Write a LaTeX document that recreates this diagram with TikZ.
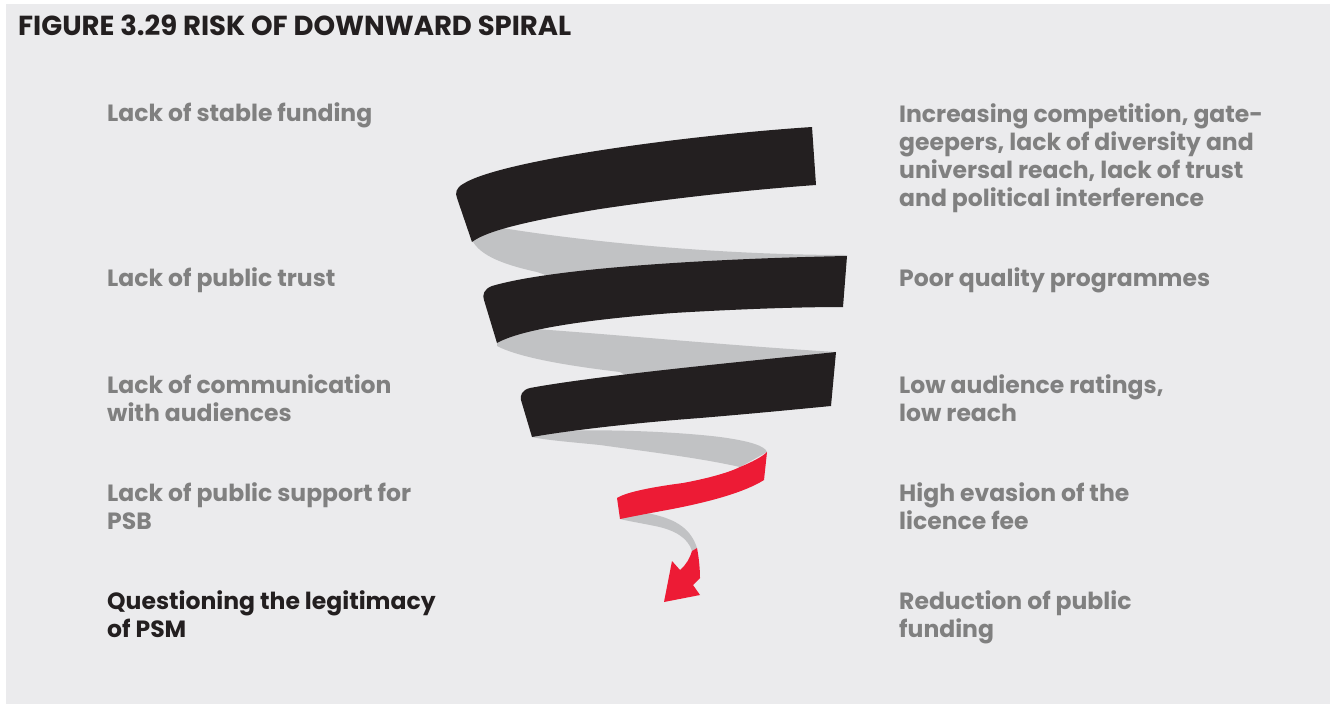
\documentclass[tikz,border=0pt]{standalone}
\usepackage{fontspec}
\setmainfont{Poppins}
\definecolor{panel}{HTML}{EBEBED}
\definecolor{txtgrey}{HTML}{808080}
\definecolor{ink}{HTML}{231F20}
\definecolor{ribbongrey}{HTML}{C1C2C4}
\definecolor{ribbonred}{HTML}{ED1B35}
\tikzset{
  lbl/.style={anchor=base west, inner sep=0pt, align=left, text=txtgrey,
    font=\fontsize{23.5}{28}\selectfont\bfseries},
  lbldark/.style={lbl, text=ink},
  title/.style={anchor=base west, inner sep=0pt, text=ink,
    font=\fontsize{27.5}{30}\selectfont\bfseries},
  back/.style={fill=ribbongrey, draw=none},
  front/.style={fill=ink, draw=none},
  redband/.style={fill=ribbonred, draw=none}
}
\begin{document}
\begin{tikzpicture}[x=1pt, y=-1pt]
\useasboundingbox (0,0) rectangle (1330,704);
\fill[white] (0,0) rectangle (1330,704);
\fill[panel] (6,4) rectangle (1330,704);

\node[title] (heading) at (18,35) {FIGURE 3.29 RISK OF DOWNWARD SPIRAL};

% ribbon: back faces first
\path[back] (472,240) -- (490,226) .. controls (560,238) and (700,255) .. (848,255)
  -- (800,275) -- (560,280)
  -- (537,272) .. controls (505,265) and (480,256) .. (472,240) -- cycle;
\path[back] (497,341) -- (520,328) .. controls (600,333) and (720,345) .. (836,352)
  -- (800,365) -- (630,378)
  -- (620,372) .. controls (570,366) and (520,358) .. (497,346) -- cycle;
\path[back] (540,432) .. controls (600,428) and (680,432) .. (720,437)
  .. controls (750,441) and (765,446) .. (767,452) -- (740,467)
  .. controls (700,458) and (650,452) .. (600,445)
  .. controls (570,442) and (545,440) .. (532,437) -- cycle;
\path[back] (622,517) -- (647,513) .. controls (672,518) and (690,526) .. (697,548)
  -- (692,551) .. controls (688,538) and (675,530) .. (655,526)
  .. controls (640,523) and (628,521) .. (620,519) -- cycle;

% ribbon: front faces
\path[front] (812,127) .. controls (690,135) and (500,160) .. (463,184)
  .. controls (456,188) and (455,193) .. (457,198) -- (472,242)
  .. controls (485,232) and (520,222) .. (600,209)
  .. controls (680,197) and (760,189) .. (816,185) -- cycle;
\path[front] (847,256) .. controls (740,258) and (560,266) .. (492,286)
  .. controls (484,289) and (482,295) .. (484,300) -- (497,343)
  .. controls (520,330) and (580,320) .. (673,313)
  .. controls (740,309) and (800,307) .. (843,307) -- cycle;
\path[front] (836,352) .. controls (760,360) and (600,375) .. (530,388)
  .. controls (522,390) and (520,395) .. (521,400) -- (532,437)
  .. controls (560,432) and (620,424) .. (700,418)
  .. controls (760,413) and (810,408) .. (831,406) -- cycle;
\path[redband] (767,452) -- (764,480) .. controls (745,492) and (710,502) .. (667,510)
  .. controls (645,514) and (630,517) .. (620,519) -- (617,498)
  .. controls (625,493) and (645,488) .. (683,483)
  .. controls (710,478) and (730,472) .. (740,467)
  .. controls (752,462) and (762,457) .. (767,452) -- cycle;
% arrow at the end of the ribbon
\path[redband] (692,551) -- (697,548) .. controls (699,558) and (700,570) .. (700,578)
  -- (693,585) -- (700,595) -- (664,602) -- (672,561) -- (680,570)
  .. controls (686,565) and (690,558) .. (692,551) -- cycle;

% causes (left); multi-line labels are placed by their last baseline
\node[lbl] (stable) at (107,121) {Lack of stable funding};
\node[lbl] (trust) at (107,286) {Lack of public trust};
\node[lbl] (comm) at (107,421) {Lack of communication\\with audiences};
\node[lbl] (support) at (107,529) {Lack of public support for\\PSB};
\node[lbldark] (legit) at (107,637) {Questioning the legitimacy\\of PSM};

% effects (right)
\node[lbl] (compet) at (899,206) {Increasing competition, gate-\\geepers, lack of diversity and\\universal reach, lack of trust\\and political interference};
\node[lbl] (quality) at (899,286) {Poor quality programmes};
\node[lbl] (ratings) at (899,421) {Low audience ratings,\\low reach};
\node[lbl] (evasion) at (899,529) {High evasion of the\\licence fee};
\node[lbl] (reduce) at (899,637) {Reduction of public\\funding};
\end{tikzpicture}
\end{document}
